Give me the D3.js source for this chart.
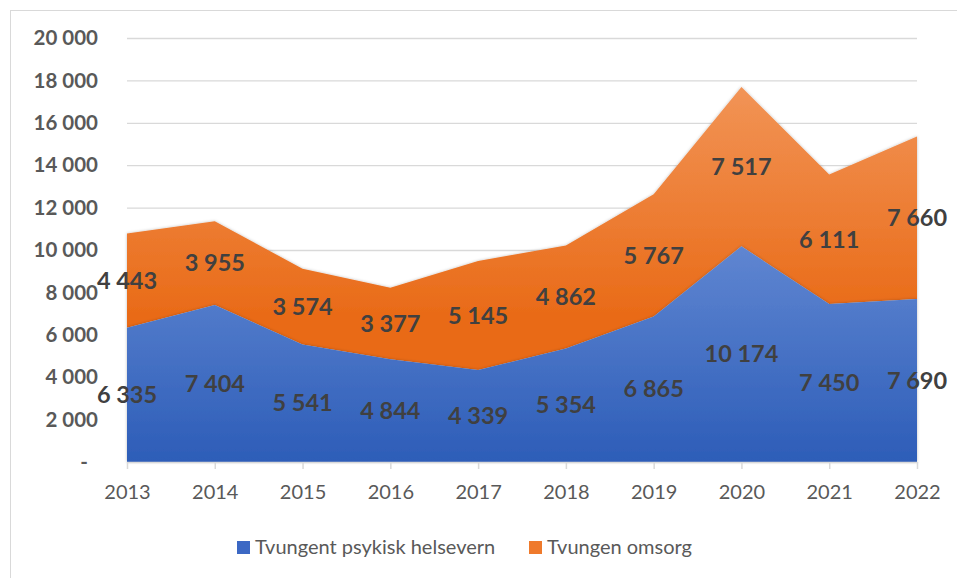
<!DOCTYPE html>
<html><head><meta charset="utf-8">
<script src="https://cdn.jsdelivr.net/npm/d3@7"></script>
<style>body{margin:0;background:#fff;} svg{display:block;font-family:Lato,"Open Sans",sans-serif;}</style>
</head><body>
<svg id="c" width="957" height="578"></svg>
<script>
const years = ["2013","2014","2015","2016","2017","2018","2019","2020","2021","2022"];
const psykisk = [6335,7404,5541,4844,4339,5354,6865,10174,7450,7690];
const omsorg = [4443,3955,3574,3377,5145,4862,5767,7517,6111,7660];
const seriesNames = ["Tvungent psykisk helsevern","Tvungen omsorg"];
const yTicks = [0,2000,4000,6000,8000,10000,12000,14000,16000,18000,20000];

const svg = d3.select("#c");
const m = {l:127, r:917, t:38, b:462};
const x = d3.scalePoint().domain(years).range([m.l, m.r]);
const y = d3.scaleLinear().domain([0,20000]).range([m.b, m.t]);
const fmt = v => v===0 ? "-" : d3.format(",")(v).replace(/,/g," ");

// frame
svg.append("rect").attr("x",10.5).attr("y",10.5).attr("width",960).attr("height",600)
  .attr("fill","none").attr("stroke","#d9d9d9");

const defs = svg.append("defs");
const gb = defs.append("linearGradient").attr("id","gb")
  .attr("gradientUnits","userSpaceOnUse").attr("x1",0).attr("x2",0).attr("y1",y(10500)).attr("y2",m.b);
gb.append("stop").attr("offset",0).attr("stop-color","#6187d2");
gb.append("stop").attr("offset",1).attr("stop-color","#2d5db8");
const go = defs.append("linearGradient").attr("id","go").attr("gradientUnits","userSpaceOnUse")
  .attr("x1",0).attr("x2",0).attr("y1",y(18000)).attr("y2",y(7000));
go.append("stop").attr("offset",0).attr("stop-color","#f29558");
go.append("stop").attr("offset",1).attr("stop-color","#e96b18");
const f = defs.append("filter").attr("id","sh").attr("x","-5%").attr("y","-5%").attr("width","110%").attr("height","110%");
f.append("feDropShadow").attr("dx",0).attr("dy",0).attr("stdDeviation",1.5).attr("flood-color","#000").attr("flood-opacity",0.25);

// gridlines
svg.append("g").selectAll("line").data(yTicks.filter(d=>d>0)).join("line")
  .attr("x1",m.l).attr("x2",m.r).attr("y1",d=>y(d)+0.5).attr("y2",d=>y(d)+0.5)
  .attr("stroke","#d9d9d9").attr("stroke-width",1.3);

// y labels
svg.append("g").selectAll("text").data(yTicks).join("text")
  .attr("x",d=>d===0?88:98).attr("y",d=>y(d)).attr("dy","0.35em").attr("text-anchor","end")
  .attr("font-size",20.5).attr("font-weight","bold").attr("fill","#595959").text(fmt);

// stack
const data = years.map((yr,i)=>({yr, a:psykisk[i], b:omsorg[i]}));
const stack = d3.stack().keys(["a","b"])(data);
const area = d3.area().x(d=>x(d.data.yr)).y0(d=>y(d[0])).y1(d=>y(d[1]));
const fills = ["url(#gb)","url(#go)"];
svg.append("g").selectAll("path").data(stack.slice().reverse()).join("path")
  .attr("d",area).attr("fill",(d)=>fills[d.index]).attr("filter","url(#sh)");

// x axis
const xa = svg.append("g").attr("transform",`translate(0,${m.b})`)
  .call(d3.axisBottom(x).tickSize(7).tickPadding(16));
xa.select(".domain").attr("stroke","#d9d9d9").attr("stroke-width",1.5).attr("d",`M${m.l},0.5H${m.r}`);
xa.selectAll(".tick line").attr("stroke","#d9d9d9").attr("stroke-width",1.5);
xa.selectAll(".tick text").attr("font-size",20).attr("fill","#595959").attr("font-family","Lato,'Open Sans',sans-serif");

// labels
stack.forEach(s=>{
  svg.append("g").selectAll("text").data(s).join("text")
    .attr("x",d=>x(d.data.yr)).attr("y",d=>y((d[0]+d[1])/2)).attr("dy","0.35em")
    .attr("text-anchor","middle").attr("font-size",23.5).attr("font-weight","bold").attr("fill","#404040")
    .text(d=>fmt(d[1]-d[0]));
});

// legend
const lg = svg.append("g").attr("transform","translate(0,547)");
const lx = [237,529];
seriesNames.forEach((n,i)=>{
  lg.append("rect").attr("x",lx[i]).attr("y",-6).attr("width",13).attr("height",13).attr("fill",i?"#ef7a2c":"#3c68c4");
  lg.append("text").attr("x",lx[i]+18).attr("y",0).attr("dy","0.35em").attr("font-size",20).attr("fill","#595959").text(n);
});
</script>
</body></html>
